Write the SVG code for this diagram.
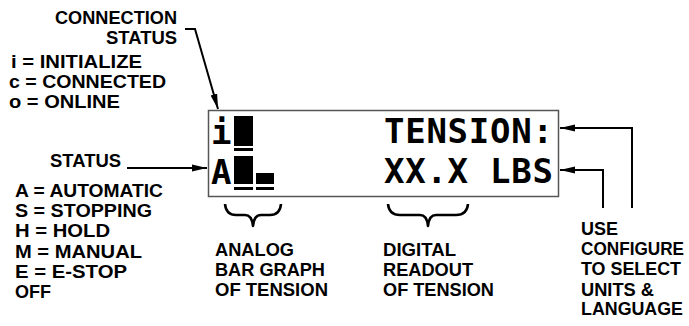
<svg xmlns="http://www.w3.org/2000/svg" width="689" height="326" viewBox="0 0 689 326">
<style>
.t{font-family:"Liberation Sans",Arial,sans-serif;font-weight:bold;font-size:18px;fill:#000}
.lcd{font-family:"DejaVu Sans Mono",monospace;font-weight:bold;font-size:34px;fill:#000}
.ln{fill:none;stroke:#000;stroke-width:2}
.br{fill:none;stroke:#000;stroke-width:2.6;stroke-linejoin:round}
</style>
<defs>
<marker id="ah" markerUnits="userSpaceOnUse" markerWidth="16" markerHeight="8" refX="15" refY="4" orient="auto">
<path d="M0,0.6 L15,4 L0,7.4 Z" fill="#000"/>
</marker>
</defs>
<rect width="689" height="326" fill="#fff"/>

<g id="display">
<rect x="208.5" y="110.5" width="350" height="86" fill="#fff" stroke="#555" stroke-width="1.5"/>
<text class="lcd" x="211" y="144">i</text>
<rect x="234" y="116" width="19" height="30" fill="#000"/>
<rect x="234" y="148" width="19" height="3" fill="#000"/>
<text class="lcd" x="211" y="184">A</text>
<rect x="234" y="156" width="19" height="28" fill="#000"/>
<rect x="234" y="187" width="19" height="3" fill="#000"/>
<rect x="256" y="173" width="18" height="11" fill="#000"/>
<rect x="256" y="187" width="18" height="3" fill="#000"/>
<text class="lcd" x="384 405.2 426.4 447.6 468.8 490 511.2 532.4" y="143">TENSION:</text>
<text class="lcd" x="384 405.2 426.4 447.6 468.8 490 511.2 532.4" y="183">XX.X LBS</text>
</g>

<g id="connection-status">
<text class="t" x="177" y="24" text-anchor="end" textLength="122" lengthAdjust="spacingAndGlyphs">CONNECTION</text>
<text class="t" x="177" y="44" text-anchor="end" textLength="71" lengthAdjust="spacingAndGlyphs">STATUS</text>
<text class="t" x="11" y="68" textLength="131" lengthAdjust="spacingAndGlyphs">i = INITIALIZE</text>
<text class="t" x="9" y="88" textLength="157" lengthAdjust="spacingAndGlyphs">c = CONNECTED</text>
<text class="t" x="9" y="108" textLength="111" lengthAdjust="spacingAndGlyphs">o = ONLINE</text>
</g>

<g id="status">
<text class="t" x="50" y="167" textLength="71" lengthAdjust="spacingAndGlyphs">STATUS</text>
<text class="t" x="15" y="197" textLength="148" lengthAdjust="spacingAndGlyphs">A = AUTOMATIC</text>
<text class="t" x="15" y="217" textLength="137" lengthAdjust="spacingAndGlyphs">S = STOPPING</text>
<text class="t" x="15" y="237" textLength="95" lengthAdjust="spacingAndGlyphs">H = HOLD</text>
<text class="t" x="15" y="258" textLength="127" lengthAdjust="spacingAndGlyphs">M = MANUAL</text>
<text class="t" x="15" y="278" textLength="112" lengthAdjust="spacingAndGlyphs">E = E-STOP</text>
<text class="t" x="15" y="298" textLength="36" lengthAdjust="spacingAndGlyphs">OFF</text>
</g>

<g id="analog">
<path class="br" d="M225,204 Q226,215 236,215 L245,215 Q252,215 253,226 Q254,215 261,215 L270,215 Q280,215 281,204"/>
<text class="t" x="215" y="256" textLength="79" lengthAdjust="spacingAndGlyphs">ANALOG</text>
<text class="t" x="215" y="276" textLength="110" lengthAdjust="spacingAndGlyphs">BAR GRAPH</text>
<text class="t" x="215" y="296" textLength="113" lengthAdjust="spacingAndGlyphs">OF TENSION</text>
</g>

<g id="digital">
<path class="br" d="M388,204 Q389,215 400,215 L420,215 Q427,215 428,226 Q429,215 436,215 L456,215 Q467,215 468,204"/>
<text class="t" x="383" y="256" textLength="73" lengthAdjust="spacingAndGlyphs">DIGITAL</text>
<text class="t" x="383" y="276" textLength="90" lengthAdjust="spacingAndGlyphs">READOUT</text>
<text class="t" x="383" y="296" textLength="111" lengthAdjust="spacingAndGlyphs">OF TENSION</text>
</g>

<g id="configure">
<text class="t" x="581" y="235" textLength="37" lengthAdjust="spacingAndGlyphs">USE</text>
<text class="t" x="581" y="255" textLength="103" lengthAdjust="spacingAndGlyphs">CONFIGURE</text>
<text class="t" x="581" y="275" textLength="100" lengthAdjust="spacingAndGlyphs">TO SELECT</text>
<text class="t" x="581" y="296" textLength="73" lengthAdjust="spacingAndGlyphs">UNITS &amp;</text>
<text class="t" x="581" y="315" textLength="102" lengthAdjust="spacingAndGlyphs">LANGUAGE</text>
</g>

<g id="connectors">
<polyline class="ln" points="185,29 195,29 218,109" marker-end="url(#ah)"/>
<line class="ln" x1="127" y1="168" x2="207" y2="168" marker-end="url(#ah)"/>
<polyline class="ln" points="632,208 632,128 560,128" marker-end="url(#ah)"/>
<polyline class="ln" points="603,208 603,170 560,170" marker-end="url(#ah)"/>
</g>
</svg>
